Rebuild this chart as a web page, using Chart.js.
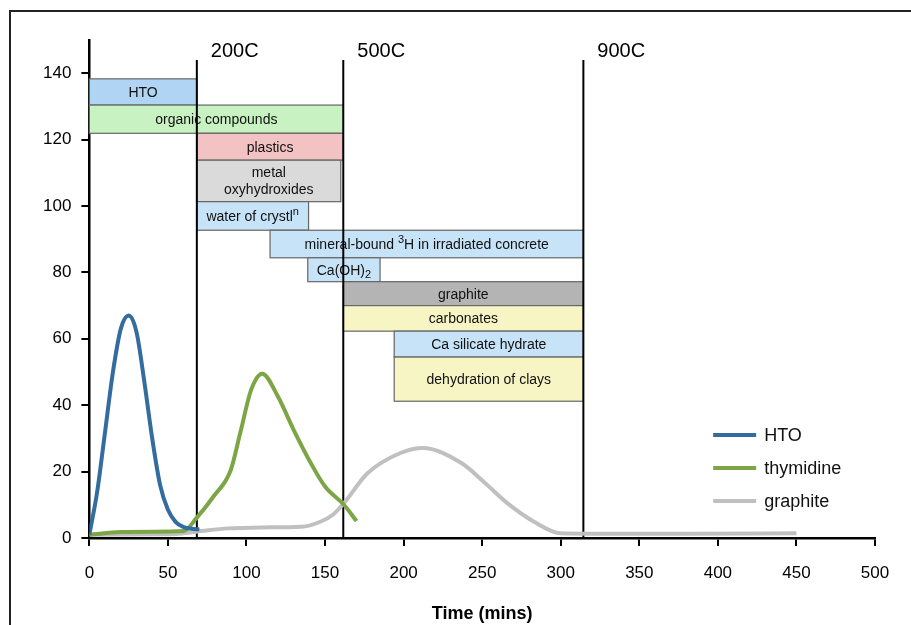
<!DOCTYPE html>
<html lang="en">

<head>
    <meta charset="UTF-8">
    <script src="https://cdn.jsdelivr.net/npm/chart.js"></script>
    <title>Tritium release</title>
    <style>
        body { margin: 0; width: 911px; height: 625px; overflow: hidden; background: #fff; position: relative; }
        .moldura { position: absolute; left: 9px; top: 10px; width: 1000px; height: 1000px; border: 2px solid #222; box-sizing: border-box; }
        .grafico { position: absolute; left: 0; top: 0; width: 911px; height: 629px; }
    </style>
</head>

<body>
    <div class="moldura"></div>
    <div class="grafico">
        <canvas id="grafico1" width="911" height="629"></canvas>
    </div>
</body>

</html>

<script>
    // curves (x in mins, y)
    var htoX = [0, 5, 10, 15, 20, 25, 30, 35, 40, 45, 50, 55, 60, 65, 70]
    var htoY = [1, 14, 32, 50, 63, 67, 62, 47, 30, 16, 8.5, 4.8, 3.3, 2.8, 2.6]

    var thyX = [0, 20, 40, 60, 68, 79, 90, 96, 103, 110, 120, 130, 141, 150, 162, 170]
    var thyY = [1, 1.8, 1.9, 2.1, 5.9, 12.5, 20.5, 31.6, 44.7, 49.5, 42.6, 32.6, 22.5, 15.5, 10, 5.1]

    var graX = [0, 50, 68, 88, 110, 135, 147, 155, 162, 177, 198, 212, 237, 252, 266, 283, 300, 320, 380, 450]
    var graY = [1, 1.1, 1.9, 2.9, 3.2, 3.4, 4.9, 7, 10.5, 19.5, 25.6, 27.1, 22.5, 16.5, 10.5, 4.9, 1.4, 1.3, 1.3, 1.4]

    // temperature markers
    var tempX = [68.4, 161.6, 314.4]
    var tempLabels = ['200C', '500C', '900C']
    var tempTop = 144

    // boxes (^ = superscript, _ = subscript, | = new line)
    var boxLabels = ['HTO', 'organic compounds', 'plastics', 'metal|oxyhydroxides', 'water of crystl^n',
        'mineral-bound ^3H in irradiated concrete', 'Ca(OH)_2', 'graphite', 'carbonates',
        'Ca silicate hydrate', 'dehydration of clays']
    var boxStart = [0, 0, 68.4, 68.4, 68.4, 115, 139, 161.6, 161.6, 194, 194]
    var boxEnd = [68.4, 161.6, 161.6, 160, 139.5, 314.4, 185, 314.4, 314.4, 314.4, 314.4]
    var boxTop = [138.3, 130.4, 121.9, 113.8, 101.3, 92.7, 84.4, 77.2, 70, 62.3, 54.5]
    var boxBottom = [130.4, 121.9, 113.8, 101.3, 92.7, 84.4, 77.2, 70, 62.3, 54.5, 41.2]
    var boxCores = ['#b0d5f4', '#c8f2c2', '#f3c2c2', '#dadada', '#c7e3f7', '#c7e3f7', '#c7e3f7',
        '#b4b4b4', '#f7f5c4', '#c7e3f7', '#f7f5c4']

    function pontos(xs, ys) {
        var p = []
        for (var i = 0; i < xs.length; i++) p.push({ x: xs[i], y: ys[i] })
        return p
    }

    var fonte = '"Liberation Sans", Arial, sans-serif'

    // split "a^b" / "a_b" into pieces
    function pedacos(txt) {
        var out = []
        var atual = ''
        for (var i = 0; i < txt.length; i++) {
            var c = txt[i]
            if (c == '^' || c == '_') {
                if (atual) out.push({ t: atual, k: 0 })
                atual = ''
                out.push({ t: txt[i + 1], k: c == '^' ? 1 : -1 })
                i++
            } else {
                atual += c
            }
        }
        if (atual) out.push({ t: atual, k: 0 })
        return out
    }

    function textoRico(ctx, txt, cx, cy) {
        var ps = pedacos(txt)
        var larg = 0
        ps.forEach(function (p) {
            ctx.font = (p.k == 0 ? '14px ' : '11px ') + fonte
            p.w = ctx.measureText(p.t).width
            larg += p.w
        })
        var x = cx - larg / 2
        ctx.textAlign = 'left'
        ps.forEach(function (p) {
            ctx.font = (p.k == 0 ? '14px ' : '11px ') + fonte
            var dy = p.k == 1 ? -5 : (p.k == -1 ? 4 : 0)
            ctx.fillText(p.t, x, cy + dy)
            x += p.w
        })
    }

    var extras = {
        id: 'extras',
        beforeDatasetsDraw(chart) {
            var ctx = chart.ctx
            var sx = chart.scales.x
            var sy = chart.scales.y
            ctx.save()
            ctx.textBaseline = 'middle'
            for (var i = 0; i < boxLabels.length; i++) {
                var x1 = sx.getPixelForValue(boxStart[i])
                var x2 = sx.getPixelForValue(boxEnd[i])
                var y1 = sy.getPixelForValue(boxTop[i])
                var y2 = sy.getPixelForValue(boxBottom[i])
                ctx.fillStyle = boxCores[i]
                ctx.fillRect(x1, y1, x2 - x1, y2 - y1)
                ctx.strokeStyle = '#666'
                ctx.lineWidth = 1.2
                ctx.strokeRect(x1, y1, x2 - x1, y2 - y1)
                ctx.fillStyle = '#111'
                var linhas = boxLabels[i].split('|')
                var meio = (y1 + y2) / 2
                for (var j = 0; j < linhas.length; j++) {
                    var dy = (j - (linhas.length - 1) / 2) * 17
                    textoRico(ctx, linhas[j], (x1 + x2) / 2, meio + dy + 1)
                }
            }
            // temperature lines
            ctx.strokeStyle = '#000'
            ctx.lineWidth = 2
            ctx.font = '20px ' + fonte
            ctx.textAlign = 'left'
            for (var k = 0; k < tempX.length; k++) {
                var xp = sx.getPixelForValue(tempX[k])
                ctx.beginPath()
                ctx.moveTo(xp, sy.getPixelForValue(0))
                ctx.lineTo(xp, sy.getPixelForValue(tempTop))
                ctx.stroke()
                ctx.fillStyle = '#000'
                ctx.fillText(tempLabels[k], xp + 14, sy.getPixelForValue(tempTop) - 8)
            }
            ctx.restore()
        },
        afterDatasetsDraw(chart) {
            // legend inside plot
            var ctx = chart.ctx
            var sx = chart.scales.x
            var sy = chart.scales.y
            ctx.save()
            ctx.font = '18px ' + fonte
            ctx.textBaseline = 'middle'
            ctx.textAlign = 'left'
            chart.data.datasets.forEach(function (ds, i) {
                var yy = sy.getPixelForValue(31) + i * 33
                var xx = sx.getPixelForValue(397)
                ctx.strokeStyle = ds.borderColor
                ctx.lineWidth = 4
                ctx.beginPath()
                ctx.moveTo(xx, yy)
                ctx.lineTo(xx + 43, yy)
                ctx.stroke()
                ctx.fillStyle = '#111'
                ctx.fillText(ds.label, xx + 51, yy + 1)
            })
            ctx.restore()
        }
    }

    const data = {
        datasets: [
            { label: 'HTO', data: pontos(htoX, htoY), borderColor: '#336c9f', borderWidth: 4 },
            { label: 'thymidine', data: pontos(thyX, thyY), borderColor: '#7ca645', borderWidth: 4 },
            { label: 'graphite', data: pontos(graX, graY), borderColor: '#c0c0c0', borderWidth: 4 }
        ]
    }

    const config = {
        type: 'line',
        data: data,
        plugins: [extras],
        options: {
            responsive: false,
            animation: false,
            layout: { padding: { left: 33, right: 36, top: 40, bottom: 0 } },
            elements: { point: { radius: 0 }, line: { cubicInterpolationMode: 'monotone', fill: false, borderCapStyle: 'butt' } },
            plugins: { legend: { display: false }, tooltip: { enabled: false } },
            scales: {
                x: {
                    type: 'linear', min: 0, max: 500,
                    ticks: { stepSize: 50, color: '#000', font: { size: 17, family: fonte }, padding: 17 },
                    grid: { drawOnChartArea: false, drawTicks: true, tickLength: 8, color: '#000', lineWidth: 2 },
                    border: { color: '#000', width: 2.5 },
                    title: { display: true, text: 'Time (mins)', color: '#000', font: { size: 18, weight: 'bold', family: fonte }, padding: { top: 3 } }
                },
                y: {
                    min: 0, max: 150,
                    afterBuildTicks: function (scale) {
                        scale.ticks = scale.ticks.filter(function (t) { return t.value <= 140 })
                    },
                    ticks: { stepSize: 20, color: '#000', font: { size: 17, family: fonte }, padding: 10 },
                    grid: { drawOnChartArea: false, drawTicks: true, tickLength: 8, color: '#000', lineWidth: 2 },
                    border: { color: '#000', width: 2.5 }
                }
            }
        }
    }

    const myChart = new Chart(document.getElementById('grafico1'), config)
</script>
